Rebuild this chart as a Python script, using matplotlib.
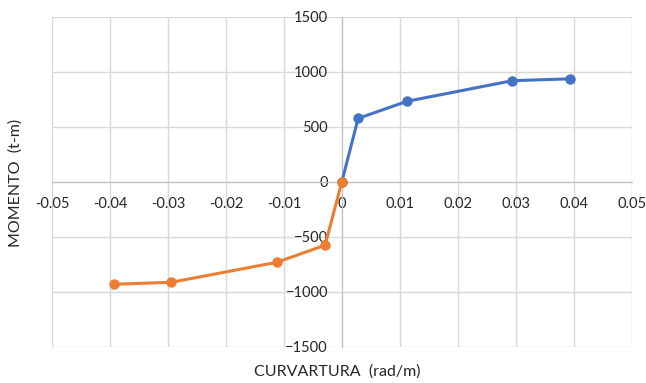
import matplotlib
matplotlib.use("Agg")
import matplotlib.pyplot as plt

plt.rcParams['font.family'] = ['Lato', 'DejaVu Sans']

# Moment-curvature data (positive and negative branches)
curv_pos = [0.0, 0.0028, 0.0112, 0.0294, 0.0394]
mom_pos = [0, 575, 730, 918, 935]
curv_neg = [0.0, -0.0029, -0.0112, -0.0294, -0.0393]
mom_neg = [0, -578, -733, -915, -933]

x_ticks = [-0.05, -0.04, -0.03, -0.02, -0.01, 0, 0.01, 0.02, 0.03, 0.04, 0.05]
x_labels = ['-0.05', '-0.04', '-0.03', '-0.02', '-0.01', '0', '0.01', '0.02', '0.03', '0.04', '0.05']
y_ticks = [-1500, -1000, -500, 0, 500, 1000, 1500]

grid_col = '#d9d9d9'
text_col = '#262626'

fig = plt.figure(figsize=(6.46, 3.83), dpi=100)
ax = fig.add_axes([0.0805, 0.095, 0.8975, 0.8615])

ax.plot(curv_pos, mom_pos, color='#4472C4', lw=2.2, marker='o', ms=6.5, zorder=3)
ax.plot(curv_neg, mom_neg, color='#ED7D31', lw=2.2, marker='o', ms=6.5, zorder=4)

ax.set_xlim(-0.05, 0.05)
ax.set_ylim(-1500, 1500)
ax.set_xticks(x_ticks)
ax.set_xticklabels(x_labels)
ax.set_yticks(y_ticks)

ax.grid(True, color=grid_col, lw=1.0, zorder=0)
ax.set_axisbelow(True)

# axes cross at the origin
for s in ['top', 'right']:
    ax.spines[s].set_visible(False)
for s in ['left', 'bottom']:
    ax.spines[s].set_position(('data', 0))
    ax.spines[s].set_color('#bfbfbf')
    ax.spines[s].set_zorder(1)

ax.tick_params(axis='both', length=0, labelsize=10.5, colors=text_col)
ax.tick_params(axis='x', pad=11)
ax.tick_params(axis='y', pad=10)

fig.text(337 / 646, 1 - 372 / 383, 'CURVARTURA  (rad/m)', ha='center', va='center',
         fontsize=11.5, color=text_col)
fig.text(16 / 646, 1 - 183 / 383, 'MOMENTO  (t-m)', ha='center', va='center',
         rotation=90, fontsize=11.5, color=text_col)

fig.savefig('out.png', dpi=100)
